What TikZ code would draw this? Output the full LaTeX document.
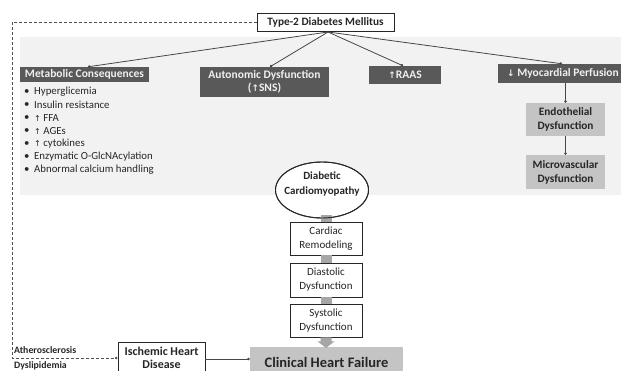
\documentclass[tikz,border=0pt]{standalone}
\usepackage{fontspec}
\setmainfont{Carlito}
\newfontfamily\sym{DejaVu Sans}
\usetikzlibrary{arrows.meta,shapes.geometric,calc}
\definecolor{darkbox}{HTML}{595959}
\definecolor{midbox}{HTML}{C4C4C4}
\definecolor{panel}{HTML}{F2F2F2}
\definecolor{barc}{HTML}{A6A6A6}
\definecolor{ink}{HTML}{262626}
\begin{document}
\begin{tikzpicture}[x=1pt,y=-1pt,
  font=\fontsize{11.5}{13.5}\selectfont,
  whitebox/.style={draw=ink,line width=0.9pt,fill=white,text=ink,align=center,inner sep=1pt},
  darkb/.style={fill=darkbox,text=white!94!black,align=center,inner sep=1pt,font=\fontsize{11.5}{13.5}\selectfont\bfseries},
  midb/.style={fill=midbox,text=ink,align=center,inner sep=1pt,font=\fontsize{11.3}{14}\selectfont\bfseries},
  conn/.style={draw=ink!85,line width=0.8pt,-{Circle[length=2.6pt]}},
  dline/.style={draw=ink!80,line width=0.8pt,dash pattern=on 3pt off 2pt,-{Circle[length=2.6pt]}},
  grbar/.style={draw=barc,line width=11pt},
  lst/.style={anchor=west,inner sep=0pt,text=ink,font=\fontsize{10.8}{12}\selectfont}
]
\useasboundingbox (0,0) rectangle (621,371);
\fill[white] (0,0) rectangle (621,371);
\fill[panel] (20,37) rectangle (621,195);

% top
\node[whitebox,minimum width=137pt,minimum height=18pt,font=\fontsize{11.3}{13}\selectfont\bfseries] (t2dm) at (325.5,22) {Type-2 Diabetes Mellitus};

% second row
\node[darkb,minimum width=129pt,minimum height=15pt] (meta) at (84.5,74.5) {Metabolic Consequences};
\node[darkb,minimum width=129pt,minimum height=30pt] (auto) at (264.5,82) {Autonomic Dysfunction\\({\sym\small↑}SNS)};
\node[darkb,minimum width=72pt,minimum height=18pt] (raas) at (405,75) {{\sym\small↑}RAAS};
\node[darkb,anchor=west,minimum height=19pt,inner xsep=9pt] (myo) at (498,73.5) {{\sym\small↓} Myocardial Perfusion};

\node[midb,minimum width=79pt,minimum height=33pt] (endo) at (565.5,119.5) {Endothelial\\Dysfunction};
\node[midb,minimum width=79pt,minimum height=34pt] (micro) at (565.5,172) {Microvascular\\Dysfunction};

% bullet list
\foreach \i/\y/\t in {1/92/{Hyperglicemia},2/105/{Insulin resistance},3/118/{{\sym\footnotesize↑} FFA},4/131/{{\sym\footnotesize↑} AGEs},5/144/{{\sym\footnotesize↑} cytokines},6/157/{Enzymatic O-GlcNAcylation},7/170/{Abnormal calcium handling}}{
  \node[lst] (bd\i) at (24,\y) {\textbullet};
  \node[lst] (bt\i) at (34,\y) {\t};
}

% central column
\node[draw=ink,line width=0.9pt,fill=white,ellipse,minimum width=93pt,minimum height=56pt] (ell) at (322,190) {};
\node[text=ink,align=center,font=\fontsize{11}{15}\selectfont\bfseries] (ellt) at (322,183.5) {Diabetic\\Cardiomyopathy};
\node[whitebox,minimum width=72pt,minimum height=33pt,font=\fontsize{11}{14}\selectfont] (card) at (326,238.5) {Cardiac\\Remodeling};
\node[whitebox,minimum width=72pt,minimum height=34pt,font=\fontsize{11}{14}\selectfont] (dias) at (326,280) {Diastolic\\Dysfunction};
\node[whitebox,minimum width=72pt,minimum height=33pt,font=\fontsize{11}{14}\selectfont] (syst) at (326,320.5) {Systolic\\Dysfunction};
\node[fill=midbox,text=ink,minimum width=153pt,minimum height=30pt,inner sep=1pt,font=\fontsize{14.5}{16}\selectfont\bfseries] (chf) at (326.5,362) {Clinical Heart Failure};
\node[whitebox,minimum width=87pt,minimum height=34pt] (ihd) at (161.5,359) {};
\node[text=ink,align=center,inner sep=0pt,font=\fontsize{12}{13.2}\selectfont\bfseries] (ihdt) at (161.5,357.5) {Ischemic Heart\\Disease};

\node[anchor=west,inner sep=0pt,text=ink,font=\fontsize{9.8}{11}\selectfont\bfseries] (ath) at (14,350) {Atherosclerosis};
\node[anchor=west,inner sep=0pt,text=ink,font=\fontsize{9.8}{11}\selectfont\bfseries] (dys) at (14,365.5) {Dyslipidemia};

% gray bars
\draw[grbar] (card.north |- ell.south) ++(0,-3) -- (card.north);
\draw[grbar] (card.south) -- (dias.north);
\draw[grbar] (dias.south) -- (syst.north);
\fill[barc] ($(syst.south)+(-5.5,0)$) -- ++(11,0) -- ++(0,4) -- ++(3,0) -- ++(-8.5,6.5) -- ++(-8.5,-6.5) -- ++(3,0) -- cycle;
\node[draw=ink,line width=0.9pt,ellipse,minimum width=93pt,minimum height=56pt] (ello) at (322,190) {};

% connectors
\coordinate (hub) at (328,32);
\draw[conn] (hub) -- ([xshift=3.5pt]meta.north);
\draw[conn] (hub) -- ([xshift=5.5pt]auto.north);
\draw[conn] (hub) -- ([xshift=-2pt]raas.north);
\draw[conn] (hub) -- ([xshift=64pt]myo.north west);
\draw[conn] (endo.north |- myo.south) -- (endo.north);
\draw[conn] (endo.south) -- (micro.north);
\draw[conn] (ihd.east) -- (ihd.east -| chf.west);
\draw[dline] (t2dm.west) -- (12,22) -- (12,358) -- (ihd.west |- 0,358);
\end{tikzpicture}
\end{document}
